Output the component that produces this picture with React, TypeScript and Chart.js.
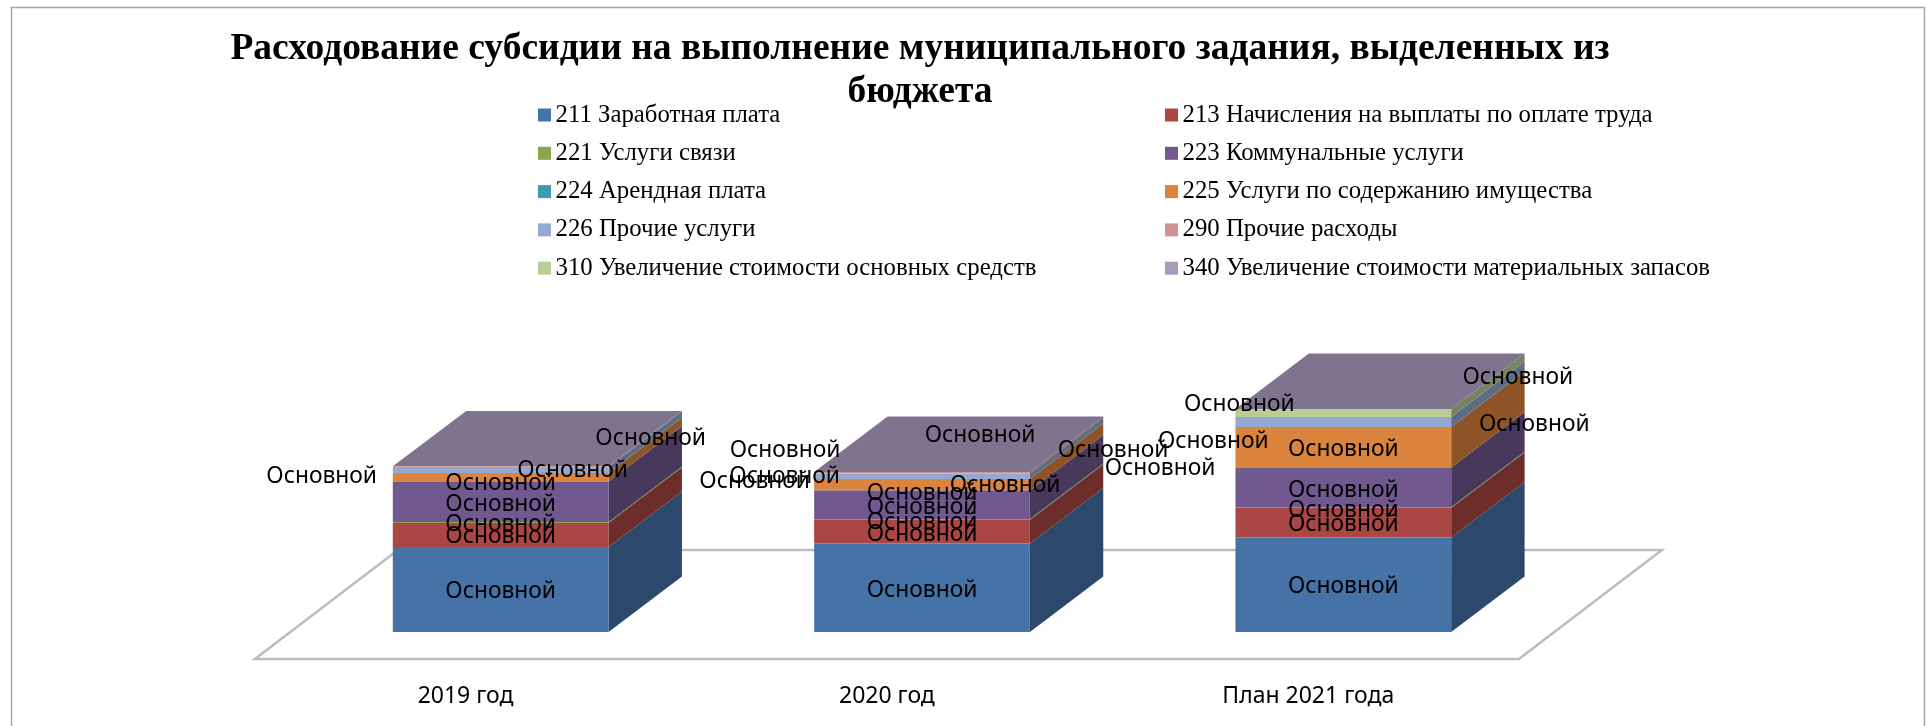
import React, { useEffect, useRef } from "react";
import { Chart, registerables } from "chart.js";

Chart.register(...registerables);

const categories = ["2019 год", "2020 год", "План 2021 года"];
const seriesNames = [
  "211 Заработная плата",
  "213 Начисления на выплаты по оплате труда",
  "221 Услуги связи",
  "223 Коммунальные услуги",
  "224 Арендная плата",
  "225 Услуги по содержанию имущества",
  "226 Прочие услуги",
  "290 Прочие расходы",
  "310 Увеличение стоимости основных средств",
  "340 Увеличение стоимости материальных запасов",
];
const s211 = [85, 88.5, 94.5];
const s213 = [24, 23.5, 29.5];
const s221 = [1, 1, 1];
const s223 = [40.5, 28.5, 39.5];
const s224 = [0, 0, 0];
const s225 = [8.5, 11.5, 40.5];
const s226 = [6, 5.5, 10];
const s290 = [0.7, 1.5, 0];
const s310 = [0, 0, 8];
const s340 = [0, 0, 0];
const seriesValues = [s211, s213, s221, s223, s224, s225, s226, s290, s310, s340];
const seriesColors = ["#4572A7", "#AA4643", "#89A54E", "#71588F", "#4198AF", "#DB843D", "#93A9CF", "#D19392", "#B9CD96", "#A99BBD"];
const titleLines = ["Расходование субсидии на выполнение муниципального задания, выделенных из", "бюджета"];
const labelText = "Основной";

// label displacement from the centre of its segment: [bar][series] -> [dx, dy] or null
const labelShift: ([number, number] | null)[][] = [
  [[0, 2.5], [0, 2], [0, 2.5], [0, 2.75], [0, 2.5], [72, -7], [-179, 7], [150, -28], [254, 15], [284, 10]],
  [[0, 3], [0, 3], [0, 3], [0, 3], [0, 3.5], [83, 1], [191, -26], [238, -4], [58, -36], [-137, -21]],
  [[0, 2], [0, 2], [0, 3.5], [0, 3], [-130, -26], [0, 2], [191, 3], null, [-104, -8], [174.5, -31]],
];

const BAR_DX = 73.4;
const BAR_DY = 55.4;
const SERIF = '"Liberation Serif"';
const LABEL_FONT = '22.8px "Noto Sans"';

function shade(hex: string, f: number) {
  const n = parseInt(hex.slice(1), 16);
  const c = [(n >> 16) & 255, (n >> 8) & 255, n & 255].map((v) => Math.round(v * f));
  return `rgb(${c[0]},${c[1]},${c[2]})`;
}

const scene3d = {
  id: "scene3d",
  afterLayout(chart: any) {
    chart.titleBlock.left = 0;
    chart.titleBlock.right = 1840;
  },
  beforeDraw(chart: any) {
    const ctx = chart.ctx;
    ctx.save();
    ctx.fillStyle = "#fff";
    ctx.fillRect(0, 0, chart.width, chart.height);
    ctx.strokeStyle = "#a6a6a6";
    ctx.lineWidth = 1.5;
    ctx.beginPath();
    ctx.moveTo(11.5, chart.height);
    ctx.lineTo(11.5, 7.5);
    ctx.lineTo(1924.5, 7.5);
    ctx.lineTo(1924.5, chart.height);
    ctx.stroke();
    // legend
    const names = chart.data.datasets;
    ctx.textBaseline = "middle";
    ctx.textAlign = "left";
    ctx.font = `24.8px ${SERIF}`;
    names.forEach((d: any, i: number) => {
      const col = i % 2;
      const row = Math.floor(i / 2);
      const mx = col === 0 ? 538 : 1165;
      const cy = 115 + row * 38.3;
      ctx.fillStyle = d.backgroundColor;
      ctx.fillRect(mx, cy - 6.5, 13, 13);
      ctx.fillStyle = "#000";
      ctx.fillText(d.label, mx + 17.5, cy);
    });
    ctx.restore();
  },
  beforeDatasetsDraw(chart: any) {
    const ctx = chart.ctx;
    const { left, right, bottom } = chart.chartArea;
    ctx.save();
    // floor
    const fx0 = left - 35.1;
    const fx1 = right - 35.1;
    const fy = bottom + 27;
    ctx.beginPath();
    ctx.moveTo(fx0, fy);
    ctx.lineTo(fx1, fy);
    ctx.lineTo(fx1 + 143, fy - 109);
    ctx.lineTo(fx0 + 143, fy - 109);
    ctx.closePath();
    ctx.strokeStyle = "#bdbdbd";
    ctx.lineWidth = 2.5;
    ctx.stroke();
    // side and top faces
    const n = chart.data.datasets.length;
    for (let di = 0; di < n; di++) {
      const meta = chart.getDatasetMeta(di);
      meta.data.forEach((el: any) => {
        const p = el.getProps(["x", "y", "base", "width"], true);
        if (Math.abs(p.base - p.y) < 0.01) return;
        const r = p.x + p.width / 2;
        ctx.fillStyle = shade(chart.data.datasets[di].backgroundColor, 0.64);
        ctx.beginPath();
        ctx.moveTo(r, p.base);
        ctx.lineTo(r + BAR_DX, p.base - BAR_DY);
        ctx.lineTo(r + BAR_DX, p.y - BAR_DY);
        ctx.lineTo(r, p.y);
        ctx.closePath();
        ctx.fill();
      });
    }
    const last = chart.getDatasetMeta(n - 1);
    last.data.forEach((el: any) => {
      const p = el.getProps(["x", "y", "width"], true);
      const l = p.x - p.width / 2;
      const r = p.x + p.width / 2;
      ctx.fillStyle = shade(chart.data.datasets[n - 1].backgroundColor, 0.75);
      ctx.beginPath();
      ctx.moveTo(l, p.y);
      ctx.lineTo(r, p.y);
      ctx.lineTo(r + BAR_DX, p.y - BAR_DY);
      ctx.lineTo(l + BAR_DX, p.y - BAR_DY);
      ctx.closePath();
      ctx.fill();
    });
    ctx.restore();
  },
  afterDatasetsDraw(chart: any) {
    const ctx = chart.ctx;
    ctx.save();
    ctx.font = LABEL_FONT;
    ctx.fillStyle = "#000";
    ctx.textAlign = "center";
    ctx.textBaseline = "middle";
    chart.data.datasets.forEach((_: any, di: number) => {
      chart.getDatasetMeta(di).data.forEach((el: any, bi: number) => {
        const shift = labelShift[bi][di];
        if (!shift) return;
        const p = el.getProps(["x", "y", "base"], true);
        ctx.fillText(labelText, p.x + shift[0], (p.y + p.base) / 2 + shift[1]);
      });
    });
    ctx.restore();
  },
};

export default function App() {
  const ref = useRef<HTMLCanvasElement>(null);
  useEffect(() => {
    const chart = new Chart(ref.current!, {
      type: "bar",
      data: {
        labels: categories,
        datasets: seriesNames.map((label, i) => ({
          label,
          data: seriesValues[i],
          backgroundColor: seriesColors[i],
          borderWidth: 0,
          barPercentage: 1,
          categoryPercentage: 0.512,
        })),
      },
      options: {
        responsive: false,
        animation: false,
        layout: { padding: { left: 290, right: 372, top: 0, bottom: 0 } },
        plugins: {
          legend: { display: false },
          tooltip: { enabled: false },
          title: {
            display: true,
            text: titleLines,
            color: "#000",
            font: { family: SERIF, size: 37.5, weight: "bold", lineHeight: "43px" },
            padding: { top: 28, bottom: 18 },
          },
        },
        scales: {
          x: {
            stacked: true,
            grid: { display: false },
            border: { display: false },
            afterFit: (s: any) => {
              s.height = 94;
            },
            ticks: {
              color: "#000",
              font: { family: "Noto Sans", size: 23 },
              padding: 43,
              labelOffset: -35.1,
              maxRotation: 0,
            },
          },
          y: { stacked: true, display: false, min: 0, max: 500 },
        },
      },
      plugins: [scene3d],
    } as any);
    return () => chart.destroy();
  }, []);
  return <canvas ref={ref} width={1926} height={726} style={{ position: "fixed", left: 0, top: 0, display: "block" }} />;
}
